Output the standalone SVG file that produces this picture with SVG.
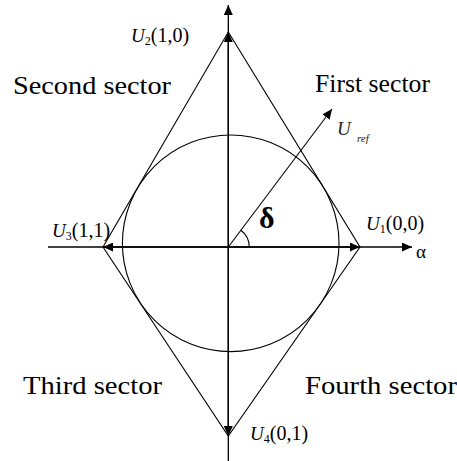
<svg xmlns="http://www.w3.org/2000/svg" width="457" height="461" viewBox="0 0 457 461">
<style>
.ln{stroke:#000;stroke-width:1.1;fill:none}
.ax{stroke:#000;stroke-width:1.3;fill:none}
.sec{font-family:"Liberation Serif","Times New Roman",serif;font-size:25px;fill:#000}
.lab{font-family:"Liberation Serif","Times New Roman",serif;font-size:19px;fill:#000}
.it{font-style:italic}
.sub{font-size:12px}
.par{font-size:20px}
</style>
<defs>
<marker id="ah" markerUnits="userSpaceOnUse" markerWidth="10" markerHeight="9" refX="10" refY="4.5" orient="auto" viewBox="0 0 10 9">
<path d="M0,0 L10,4.5 L0,9 z" fill="#000"/>
</marker>
</defs>
<rect width="457" height="461" fill="#fff"/>
<g id="connectors">
<circle class="ln" cx="230.7" cy="243.3" r="108.3"/>
<polygon class="ln" points="228.3,32 360,247 228.3,436 103,247"/>
<line class="ax" x1="228.3" y1="461" x2="228.3" y2="5" marker-end="url(#ah)"/>
<line class="ax" x1="48" y1="247" x2="412" y2="247" marker-end="url(#ah)"/>
<line class="ax" x1="228.3" y1="247" x2="228.3" y2="32" marker-end="url(#ah)"/>
<line class="ax" x1="228.3" y1="247" x2="228.3" y2="436" marker-end="url(#ah)"/>
<line class="ax" x1="228.3" y1="247" x2="360" y2="247" marker-end="url(#ah)"/>
<line class="ax" x1="228.3" y1="247" x2="103" y2="247" marker-end="url(#ah)"/>
<line class="ln" x1="228.3" y1="247" x2="332" y2="109" marker-end="url(#ah)"/>
<path class="ln" d="M249.3,247 A21,21 0 0 0 240.9,230.2"/>
</g>
<g id="sector1"><text class="sec" x="315" y="92" textLength="115" lengthAdjust="spacingAndGlyphs">First sector</text></g>
<g id="sector2"><text class="sec" x="13" y="94" textLength="158" lengthAdjust="spacingAndGlyphs">Second sector</text></g>
<g id="sector3"><text class="sec" x="23" y="394" textLength="139" lengthAdjust="spacingAndGlyphs">Third sector</text></g>
<g id="sector4"><text class="sec" x="305" y="394" textLength="152" lengthAdjust="spacingAndGlyphs">Fourth sector</text></g>
<g id="U2"><text class="lab" x="131" y="42"><tspan class="it">U</tspan><tspan class="sub" dy="3">2</tspan><tspan class="par" dy="-3">(1,0)</tspan></text></g>
<g id="U1"><text class="lab" x="366" y="230"><tspan class="it">U</tspan><tspan class="sub" dy="3">1</tspan><tspan class="par" dy="-3">(0,0)</tspan></text></g>
<g id="U3"><text class="lab" x="52" y="237"><tspan class="it">U</tspan><tspan class="sub" dy="3">3</tspan><tspan class="par" dy="-3">(1,1)</tspan></text></g>
<g id="U4"><text class="lab" x="250" y="440"><tspan class="it">U</tspan><tspan class="sub" dy="3">4</tspan><tspan class="par" dy="-3">(0,1)</tspan></text></g>
<g id="Uref"><text class="lab it" x="337" y="135" style="fill:#222">U</text><text class="lab it" x="357" y="142" style="font-size:11px;fill:#222">ref</text></g>
<g id="delta"><text class="lab" x="259" y="228" style="font-size:30px;font-weight:bold">δ</text></g>
<g id="alpha"><text class="lab" x="416" y="258" style="font-size:19px">α</text></g>
</svg>
